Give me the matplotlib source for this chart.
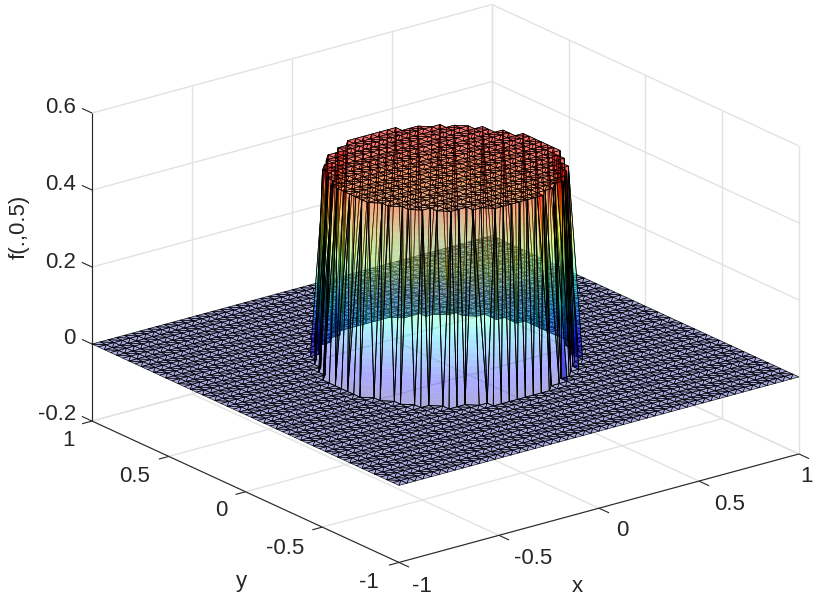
import numpy as np
import matplotlib
matplotlib.use('Agg')
import matplotlib.pyplot as plt
from matplotlib.colors import Normalize
from mpl_toolkits.mplot3d.art3d import Poly3DCollection, Line3DCollection

# mesh nodes along each side
grid_x = np.linspace(-1, 1, 51)
grid_y = np.linspace(-1, 1, 51)

# plateau: half width (in cells) for the rows y=-0.48..0.48
plateau_half_cols = [3, 5, 7, 8, 9, 10, 10, 11, 11, 12, 12, 12, 12,
                     12, 12, 12, 11, 11, 10, 10, 9, 8, 7, 5, 3]
plateau_height = 0.5
ground_height = 0.0

x_ticks = [-1, -0.5, 0, 0.5, 1]
y_ticks = [-1, -0.5, 0, 0.5, 1]
z_ticks = [-0.2, 0, 0.2, 0.4, 0.6]

x_tick_labels = ['-1', '-0.5', '0', '0.5', '1']
y_tick_labels = ['-1', '-0.5', '0', '0.5', '1']
z_tick_labels = ['-0.2', '0', '0.2', '0.4', '0.6']

# label centres in pixels
x_label_pos = [(422, 586), (533, 558), (622, 530), (730, 505), (806, 476)]
y_label_pos = [(369, 582), (285, 549), (221, 511), (135, 476), (68, 440)]
z_label_pos = [(76, 415), (76, 338), (76, 263), (76, 185), (76, 108)]

W, H = 830, 605
AZIM, ELEV = -127.5, 20.7
ALPHA = 0.33
TEXT = '#262626'
GRID = '#e2e2e2'
cmap = plt.get_cmap('jet')
norm = Normalize(-0.01, 0.55)


def rgba(z):
    c = list(cmap(norm(z)))
    c[3] = ALPHA
    return c


def band(tri, lo, hi):
    # clip a triangle to lo <= z <= hi
    poly = [np.asarray(p, dtype=float) for p in tri]
    for level, sign in ((lo, 1), (hi, -1)):
        out = []
        for k in range(len(poly)):
            a, b = poly[k], poly[(k + 1) % len(poly)]
            da, db = sign * (a[2] - level), sign * (b[2] - level)
            if da >= 0:
                out.append(a)
            if da * db < 0:
                out.append(a + (b - a) * da / (da - db))
        poly = out
        if not poly:
            break
    return poly


def main():
    X, Y = np.meshgrid(grid_x, grid_y)
    Z = np.full(X.shape, ground_height)
    mid = len(grid_x) // 2
    row0 = mid - len(plateau_half_cols) // 2
    for k, half in enumerate(plateau_half_cols):
        Z[row0 + k, mid - half:mid + half + 1] = plateau_height

    tris = []
    for j in range(len(grid_y) - 1):
        for i in range(len(grid_x) - 1):
            a, b = (j, i), (j, i + 1)
            c, d = (j + 1, i + 1), (j + 1, i)
            if j % 2 == 0:
                tris += [(a, b, c), (a, c, d)]
            else:
                tris += [(a, b, d), (b, c, d)]

    ground, top, wall = [], [], []
    for t in tris:
        pts = [(X[n], Y[n], Z[n]) for n in t]
        zs = [p[2] for p in pts]
        if max(zs) == ground_height:
            ground.append(pts)
        elif min(zs) == plateau_height:
            top.append(pts)
        else:
            wall.append(pts)

    view = np.array([np.cos(np.radians(AZIM)), np.sin(np.radians(AZIM))])
    levels = np.linspace(ground_height, plateau_height, 31)
    parts = {'back': ([], [], []), 'front': ([], [], [])}
    for pts in wall:
        cx, cy = np.mean([p[0] for p in pts]), np.mean([p[1] for p in pts])
        side = 'front' if cx * view[0] + cy * view[1] > 0 else 'back'
        polys, cols, segs = parts[side]
        for lo, hi in zip(levels[:-1], levels[1:]):
            p = band(pts, lo, hi)
            if len(p) >= 3:
                polys.append(p)
                cols.append(rgba((lo + hi) / 2))
        for k in range(3):
            segs.append([pts[k], pts[(k + 1) % 3]])

    fig = plt.figure(figsize=(W / 100, H / 100), dpi=100)
    S = 762.4
    ax = fig.add_axes([54 / W, -70 / H, S / W, S / H], projection='3d',
                      proj_type='ortho', computed_zorder=False)
    ax.view_init(elev=ELEV, azim=AZIM)
    ax.set_box_aspect((1, 1, 0.6531))
    ax.set_axis_off()

    # grid on the two back walls and the floor
    zlo, zhi = z_ticks[0], z_ticks[-1]
    grid = []
    for t in x_ticks:
        grid.append([(t, -1, zlo), (t, 1, zlo)])
        grid.append([(t, 1, zlo), (t, 1, zhi)])
    for t in y_ticks:
        grid.append([(-1, t, zlo), (1, t, zlo)])
        grid.append([(1, t, zlo), (1, t, zhi)])
    for t in z_ticks:
        grid.append([(-1, 1, t), (1, 1, t)])
        grid.append([(1, 1, t), (1, -1, t)])
    ax.add_collection3d(Line3DCollection(grid, colors=GRID, linewidths=1.0, zorder=1))

    # axis lines and ticks
    axes_lines = [[(-1, -1, zlo), (1, -1, zlo)],
                  [(-1, -1, zlo), (-1, 1, zlo)],
                  [(-1, 1, zlo), (-1, 1, zhi)]]
    for t in x_ticks:
        axes_lines.append([(t, -1, zlo), (t, -1.066, zlo)])
    for t in y_ticks:
        axes_lines.append([(-1, t, zlo), (-1.05, t, zlo)])
    for t in z_ticks:
        axes_lines.append([(-1, 1, t), (-1, 1.066, t)])
    ax.add_collection3d(Line3DCollection(axes_lines, colors=TEXT, linewidths=0.8, zorder=2))

    edge = dict(edgecolors='k', linewidths=0.42)
    ax.add_collection3d(Poly3DCollection(ground, facecolors=[rgba(ground_height)] * len(ground),
                                         zorder=3, **edge))
    polys, cols, segs = parts['back']
    ax.add_collection3d(Poly3DCollection(polys, facecolors=cols, edgecolors='none',
                                         linewidths=0, zorder=4))
    ax.add_collection3d(Line3DCollection(segs, colors='k', linewidths=0.45, zorder=5))
    ax.add_collection3d(Poly3DCollection(top, facecolors=[rgba(plateau_height)] * len(top),
                                         zorder=6, **edge))
    polys, cols, segs = parts['front']
    ax.add_collection3d(Poly3DCollection(polys, facecolors=cols, edgecolors='none',
                                         linewidths=0, zorder=7))
    ax.add_collection3d(Line3DCollection(segs, colors='k', linewidths=0.6, zorder=8))

    ax.set_xlim(-1, 1, view_margin=0)
    ax.set_ylim(-1, 1, view_margin=0)
    ax.set_zlim(zlo, zhi, view_margin=0)

    font = dict(family='Liberation Sans', fontsize=16, color=TEXT, va='center')
    for s, (px, py) in zip(x_tick_labels, x_label_pos):
        fig.text(px / W, 1 - py / H, s, ha='center', **font)
    for s, (px, py) in zip(y_tick_labels, y_label_pos):
        fig.text(px / W, 1 - py / H, s, ha='center', **font)
    for s, (px, py) in zip(z_tick_labels, z_label_pos):
        fig.text(px / W, 1 - py / H, s, ha='right', **font)
    fig.text(577 / W, 1 - 587 / H, 'x', ha='center', **font)
    fig.text(241 / W, 1 - 581 / H, 'y', ha='center', **font)
    fig.text(19 / W, 1 - 227 / H, 'f(.,0.5)', ha='center', rotation=90, **font)

    fig.savefig('out.png', dpi=100)


if __name__ == '__main__':
    main()
